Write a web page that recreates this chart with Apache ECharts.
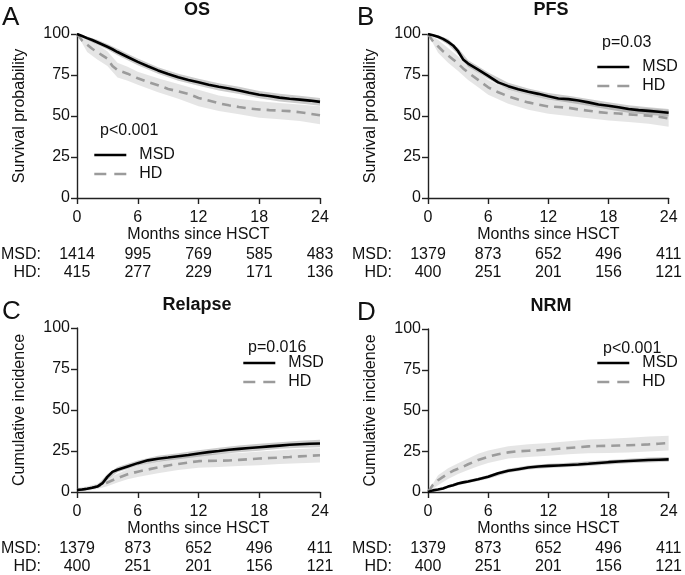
<!DOCTYPE html>
<html>
<head>
<meta charset="utf-8">
<script src="https://cdn.jsdelivr.net/npm/echarts@6/dist/echarts.min.js"></script>
<style>html,body{margin:0;padding:0;background:#fff}#c{width:685px;height:575px}</style>
</head>
<body>
<div id="c"></div>
<script>
// ---- data ----
const xTicks = [0, 6, 12, 18, 24];
const yTicks = [0, 25, 50, 75, 100];
// months for estimates
const M = [0,0.5,1,1.5,2,2.5,3,3.5,4,5,6,7,8,9,10,11,12,13,14,15,16,17,18,19,20,21,22,23,24];
// months for confidence bands
const BM = [0,1,2,3,4,5,6,8,10,12,14,16,18,20,22,24];

const panelTitles = ['OS', 'PFS', 'Relapse', 'NRM'];
const panelLetters = ['A', 'B', 'C', 'D'];
const pValues = ['p<0.001', 'p=0.03', 'p=0.016', 'p<0.001'];
const yNames = ['Survival probability', 'Survival probability', 'Cumulative incidence', 'Cumulative incidence'];
const groups = ['MSD', 'HD'];

// OS
const osMSD = [100,98.8,97.5,96.3,95,93.6,92.2,90.7,89,86,83,80.3,77.8,75.6,73.6,72,70.6,69,67.8,66.8,65.6,64.2,63,62.2,61.2,60.5,60,59.4,58.6];
const osMSDlo = [100,96.5,93.5,90.5,87,84,81,75.8,71.5,68.5,65.6,63.4,60.8,58.8,57.6,56.2];
const osMSDhi = [100,98.5,96.5,93.9,91,88,85,79.8,75.7,72.7,70,67.8,65.2,63.6,62.4,61];
const osHD = [100,96,93.5,91,89,87,85,80.5,78,75.8,73,70.8,68.8,66.5,65,63.5,61,59.5,57.8,56.5,55.5,54.6,54,53.6,53.3,53,52.3,51.4,50.5];
const osHDlo = [100,89,84.5,80.5,73.5,71.5,69,64.5,60.5,56,53,51,49,48,47,45];
const osHDhi = [100,97.5,93.5,89.5,82.5,80,77,73,69.5,66,62.5,60.5,59,58,57,56];
// PFS
const pfsMSD = [100,99.3,98.3,97,95.2,93,89.5,84.5,82,78.3,74.5,70.5,68.2,66.3,64.8,63.5,62,60.7,60.3,59.5,58.3,57,56.2,55.3,54.3,53.6,53.1,52.6,52];
const pfsMSDlo = [100,97.3,93.5,87.5,80,76.3,72.5,66.2,62.8,60,58.2,56.2,54,52,50.8,49.7];
const pfsMSDhi = [100,99.3,97,91.5,84,80.3,76.5,70.2,66.8,64,62.4,60.4,58.4,56.6,55.4,54.3];
const pfsHD = [100,95.5,92.5,89.5,87,84.5,82,79,76.5,72,67.5,64.5,62,60,58.3,57,55.8,55.5,55,54,53.2,52.4,51.8,51.5,51,50.6,50.2,49.5,48.6];
const pfsHDlo = [100,88.5,82.5,77.5,72,67.5,63,57.5,53.8,51.3,50,48.7,47.3,46.3,45.2,43.5];
const pfsHDhi = [100,96.5,91.5,86.5,81,76.5,72,66.5,62.8,60.3,59.5,58,56.3,55.4,54.7,53.7];
// Relapse
const relMSD = [1.2,1.5,2,2.6,3.3,5.2,9.2,12.3,13.6,15.6,17.6,19.3,20.3,21,21.8,22.6,23.5,24.3,25,25.8,26.3,26.8,27.3,27.8,28.3,28.8,29.1,29.4,29.6];
const relMSDlo = [0.5,1.2,2.5,7.5,12,14,16,18.5,20,21.5,23,24.3,25.2,26.3,27,27.3];
const relMSDhi = [2,2.8,4.1,10.9,15.2,17.2,19.2,22.1,23.6,25.5,27,28.3,29.4,30.3,31.2,31.9];
const relHD = [1.2,1.5,2,2.6,3.3,4.3,5.8,7.2,8.4,10.8,12.4,13.7,15,16.2,17.1,18,18.8,19,19.1,19.2,19.6,20,20.4,20.7,21,21.3,21.7,22.1,22.4];
const relHDlo = [0.3,0.8,1.8,3.5,5.8,7.8,9.2,11.5,13.4,14.8,15.2,15.8,16.3,17,17.5,18];
const relHDhi = [2.5,3.5,5,8.3,11.2,13.9,15.8,18.7,21,22.8,23.3,23.8,24.7,25.4,26.2,26.9];
// NRM
const nrmMSD = [0,1,1.5,2.2,3.3,4.2,5.2,5.9,6.5,7.8,9.3,11.5,13,14,15,15.6,16,16.3,16.6,16.9,17.3,17.8,18.3,18.7,19,19.3,19.6,19.8,20];
const nrmMSDlo = [0,0.9,2.4,4.2,5.5,6.8,8.2,11.8,13.8,14.8,15.4,16,16.9,17.6,18.1,18.5];
const nrmMSDhi = [0,2.1,4.2,6.2,7.5,8.8,10.4,14.2,16.2,17.4,18,18.8,19.7,20.4,21.1,21.5];
const nrmHD = [0,4.5,7.2,9.3,11.3,13,14.3,15.5,17,19.6,21.6,23.2,24.3,25,25.3,25.6,26,26.5,27,27.5,28,28.2,28.3,28.5,28.7,28.9,29.2,29.6,30];
const nrmHDlo = [0,4.2,8,11,13.5,15.8,17.8,20.5,21.5,22.3,23.1,23.8,24,24.3,24.8,25.5];
const nrmHDhi = [0,10.2,14.6,17.6,20.5,23.4,25.4,28.1,29.3,30,31.1,32.2,32.6,33.3,34,34.5];

// numbers at risk
const riskOS_MSD = [1414, 995, 769, 585, 483];
const riskOS_HD = [415, 277, 229, 171, 136];
const riskPFS_MSD = [1379, 873, 652, 496, 411];
const riskPFS_HD = [400, 251, 201, 156, 121];
const riskRel_MSD = [1379, 873, 652, 496, 411];
const riskRel_HD = [400, 251, 201, 156, 121];
const riskNRM_MSD = [1379, 873, 652, 496, 411];
const riskNRM_HD = [400, 251, 201, 156, 121];

// ---- layout / style ----
const FONT = "'Liberation Sans', Arial, sans-serif";
const TXT = '#111';
const AX = '#222';
const layout = [
  {left: 73, top: 34, width: 247, height: 164, letter: [2, 5], title: [197, 1], p: [100, 123], leg: [93, 147]},
  {left: 428, top: 34, width: 246, height: 164, letter: [357, 5], title: [551, 1], p: [602, 35], leg: [596, 59]},
  {left: 73, top: 328, width: 247, height: 165, letter: [2, 299], title: [197, 296], p: [248, 340], leg: [242, 355]},
  {left: 428, top: 329, width: 246, height: 164, letter: [357, 300], title: [551, 297], p: [603, 341], leg: [596, 355]}
];

const panels = [
  {est: [osMSD, osHD], lo: [osMSDlo, osHDlo], hi: [osMSDhi, osHDhi], risk: [riskOS_MSD, riskOS_HD]},
  {est: [pfsMSD, pfsHD], lo: [pfsMSDlo, pfsHDlo], hi: [pfsMSDhi, pfsHDhi], risk: [riskPFS_MSD, riskPFS_HD]},
  {est: [relMSD, relHD], lo: [relMSDlo, relHDlo], hi: [relMSDhi, relHDhi], risk: [riskRel_MSD, riskRel_HD]},
  {est: [nrmMSD, nrmHD], lo: [nrmMSDlo, nrmHDlo], hi: [nrmMSDhi, nrmHDhi], risk: [riskNRM_MSD, riskNRM_HD]}
];

const lineStyles = {
  MSD: {color: '#000', width: 2.6, type: 'solid'},
  HD: {color: '#9b9b9b', width: 2.6, type: [9, 6]}
};
const bandColors = {MSD: 'rgba(0,0,0,0.2)', HD: 'rgba(0,0,0,0.1)'};

const grid = [], xAxis = [], yAxis = [], series = [], title = [], legend = [];

panels.forEach((pn, g) => {
  const L = layout[g];
  grid.push({left: L.left, top: L.top, width: L.width, height: L.height});
  xAxis.push({
    type: 'value', gridIndex: g, min: xTicks[0], max: xTicks[xTicks.length - 1], interval: xTicks[1] - xTicks[0],
    name: 'Months since HSCT', nameLocation: 'middle', nameGap: 27,
    nameTextStyle: {fontFamily: FONT, fontSize: 16, color: TXT},
    axisLine: {show: true, lineStyle: {color: AX, width: 1.4}},
    axisTick: {show: true, length: 6, lineStyle: {color: AX, width: 1.4}},
    axisLabel: {fontFamily: FONT, fontSize: 16, color: TXT, margin: 12},
    splitLine: {show: false}
  });
  [0, 1].forEach(k => {
    const arr = pn.risk[k];
    xAxis.push({
      type: 'value', gridIndex: g, position: 'bottom', offset: k === 0 ? 57 : 75,
      min: xTicks[0], max: xTicks[xTicks.length - 1], interval: xTicks[1] - xTicks[0],
      name: groups[k] + ':', nameLocation: 'start', nameGap: 36,
      nameTextStyle: {fontFamily: FONT, fontSize: 16, color: TXT, align: 'right', verticalAlign: 'middle'},
      axisLine: {show: false}, axisTick: {show: false}, splitLine: {show: false},
      axisLabel: {fontFamily: FONT, fontSize: 16, color: TXT, margin: 0, verticalAlign: 'middle',
        formatter: v => { const i = xTicks.indexOf(v); return i >= 0 ? String(arr[i]) : ''; }}
    });
  });
  yAxis.push({
    type: 'value', gridIndex: g, min: yTicks[0], max: yTicks[yTicks.length - 1], interval: yTicks[1] - yTicks[0],
    name: yNames[g], nameLocation: 'middle', nameGap: 49, nameRotate: 90,
    nameTextStyle: {fontFamily: FONT, fontSize: 16, color: TXT},
    axisLine: {show: true, lineStyle: {color: AX, width: 1.4}},
    axisTick: {show: true, length: 6, lineStyle: {color: AX, width: 1.4}},
    axisLabel: {fontFamily: FONT, fontSize: 16, color: TXT, margin: 7},
    splitLine: {show: false}
  });
  const xi = g * 3;
  // confidence bands as polygons through the axis scales
  [1, 0].forEach(k => {
    const grp = groups[k];
    const lo = pn.lo[k], hi = pn.hi[k];
    series.push({
      type: 'custom', name: 'band' + g + grp, xAxisIndex: xi, yAxisIndex: g, silent: true, z: 1,
      data: BM.map((m, i) => [m, lo[i], hi[i]]),
      encode: {x: 0, y: [1, 2]},
      renderItem: (params, api) => {
        if (params.dataIndexInside !== 0) return null;
        const pts = [];
        for (let i = 0; i < BM.length; i++) pts.push(api.coord([BM[i], lo[i]]));
        for (let i = BM.length - 1; i >= 0; i--) pts.push(api.coord([BM[i], hi[i]]));
        return {type: 'polygon', shape: {points: pts}, style: {fill: bandColors[grp], stroke: null}};
      }
    });
  });
  [1, 0].forEach(k => {
    const grp = groups[k];
    series.push({
      type: 'line', name: grp, xAxisIndex: xi, yAxisIndex: g,
      data: M.map((m, i) => [m, pn.est[k][i]]), symbol: 'none', smooth: false,
      itemStyle: {color: lineStyles[grp].color},
      lineStyle: lineStyles[grp], z: k === 0 ? 4 : 3
    });
  });
  title.push({text: panelLetters[g], left: L.letter[0], top: L.letter[1], padding: 0,
    textStyle: {fontFamily: FONT, fontSize: 26, fontWeight: 'normal', color: TXT}});
  title.push({text: panelTitles[g], left: L.title[0], top: L.title[1], padding: 0, textAlign: 'center',
    textStyle: {fontFamily: FONT, fontSize: 18, fontWeight: 'bold', color: TXT}});
  title.push({text: pValues[g], left: L.p[0], top: L.p[1], padding: 0,
    textStyle: {fontFamily: FONT, fontSize: 16, fontWeight: 'normal', color: TXT}});
  legend.push({
    left: L.leg[0], top: L.leg[1], orient: 'vertical', padding: 0, itemGap: 3,
    itemWidth: 32, itemHeight: 14, selectedMode: false,
    itemStyle: {opacity: 0},
    textStyle: {fontFamily: FONT, fontSize: 16, color: TXT, padding: [0, 0, 0, 8]},
    data: [
      {name: 'MSD', lineStyle: {color: '#000', width: 2.6, type: 'solid'}},
      {name: 'HD', lineStyle: {color: '#9b9b9b', width: 2.6, type: [12, 8]}}
    ]
  });
});

const chart = echarts.init(document.getElementById('c'), null, {renderer: 'canvas'});
chart.setOption({
  animation: false,
  backgroundColor: '#fff',
  textStyle: {fontFamily: FONT},
  title, legend, grid, xAxis, yAxis, series
});
</script>
</body>
</html>
